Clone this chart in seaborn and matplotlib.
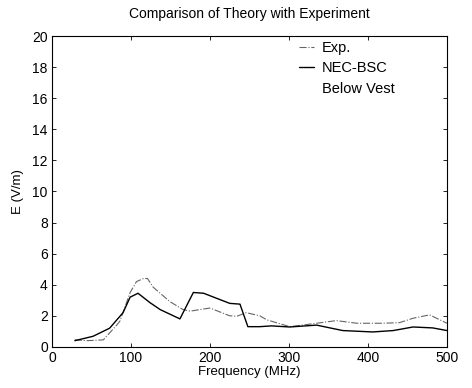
import seaborn as sns
import pandas as pd
import matplotlib.pyplot as plt

# Measured field (Exp.)
exp_freq = [29, 45, 65, 82, 86, 99, 107, 116, 121, 128, 149, 166, 175, 200, 225, 234,
            246, 263, 272, 301, 335, 360, 386, 419, 440, 457, 478, 500]
exp_e = [0.45, 0.4, 0.45, 1.4, 1.65, 3.5, 4.2, 4.4, 4.4, 3.85, 2.92, 2.4, 2.3, 2.5, 2.0, 1.97,
         2.2, 2.0, 1.74, 1.3, 1.52, 1.69, 1.52, 1.52, 1.56, 1.84, 2.06, 1.52]

# NEC-BSC model, below vest
nec_freq = [29, 52, 73, 90, 99, 109, 124, 137, 162, 179, 192, 225, 238, 248, 263,
            278, 301, 335, 368, 406, 432, 457, 482, 500]
nec_e = [0.4, 0.68, 1.2, 2.2, 3.2, 3.45, 2.85, 2.4, 1.8, 3.5, 3.45, 2.8, 2.75, 1.3, 1.3,
         1.35, 1.28, 1.4, 1.05, 0.96, 1.05, 1.28, 1.22, 1.05]

exp_df = pd.DataFrame({'Frequency (MHz)': exp_freq, 'E (V/m)': exp_e})
nec_df = pd.DataFrame({'Frequency (MHz)': nec_freq, 'E (V/m)': nec_e})

sns.set_style("ticks")
plt.rcParams['font.family'] = ['Liberation Sans', 'DejaVu Sans']
plt.rcParams['text.color'] = 'black'
plt.rcParams['axes.labelcolor'] = 'black'
plt.rcParams['xtick.color'] = 'black'
plt.rcParams['ytick.color'] = 'black'
plt.rcParams['axes.edgecolor'] = 'black'
plt.rcParams['xtick.direction'] = 'in'
plt.rcParams['ytick.direction'] = 'in'

fig = plt.figure(figsize=(4.72, 3.88), dpi=100)
ax = fig.add_axes([0.110, 0.106, 0.837, 0.801])

# Type of plot
sns.lineplot(data=exp_df, x='Frequency (MHz)', y='E (V/m)', ax=ax, color='#666666',
             linewidth=0.8, linestyle='-.', label='Exp.', sort=False)
sns.lineplot(data=nec_df, x='Frequency (MHz)', y='E (V/m)', ax=ax, color='black',
             linewidth=1.0, label='NEC-BSC', sort=False)
# second legend line without a handle
ax.plot([], [], color='none', label='Below Vest')

ax.set_xlim(0, 500)
ax.set_ylim(0, 20)
ax.set_xticks(range(0, 501, 100))
ax.set_yticks(range(0, 21, 2))
ax.tick_params(top=True, right=True, labelsize=10, length=3, width=0.6, pad=3)
for s in ax.spines.values():
    s.set_linewidth(0.8)

# Plot Labels
ax.set_xlabel('Frequency (MHz)', fontsize=9.5, labelpad=1)
ax.set_ylabel('E (V/m)', fontsize=9.5, labelpad=6)

# Plot Title
ax.set_title('Comparison of Theory with Experiment', fontsize=10, pad=13)

ax.legend(loc='upper left', bbox_to_anchor=(0.625, 0.985), frameon=False, fontsize=10.5,
          handlelength=1.05, handletextpad=0.55, labelspacing=0.45, borderaxespad=0,
          borderpad=0)

fig.savefig('out.png', dpi=100)
